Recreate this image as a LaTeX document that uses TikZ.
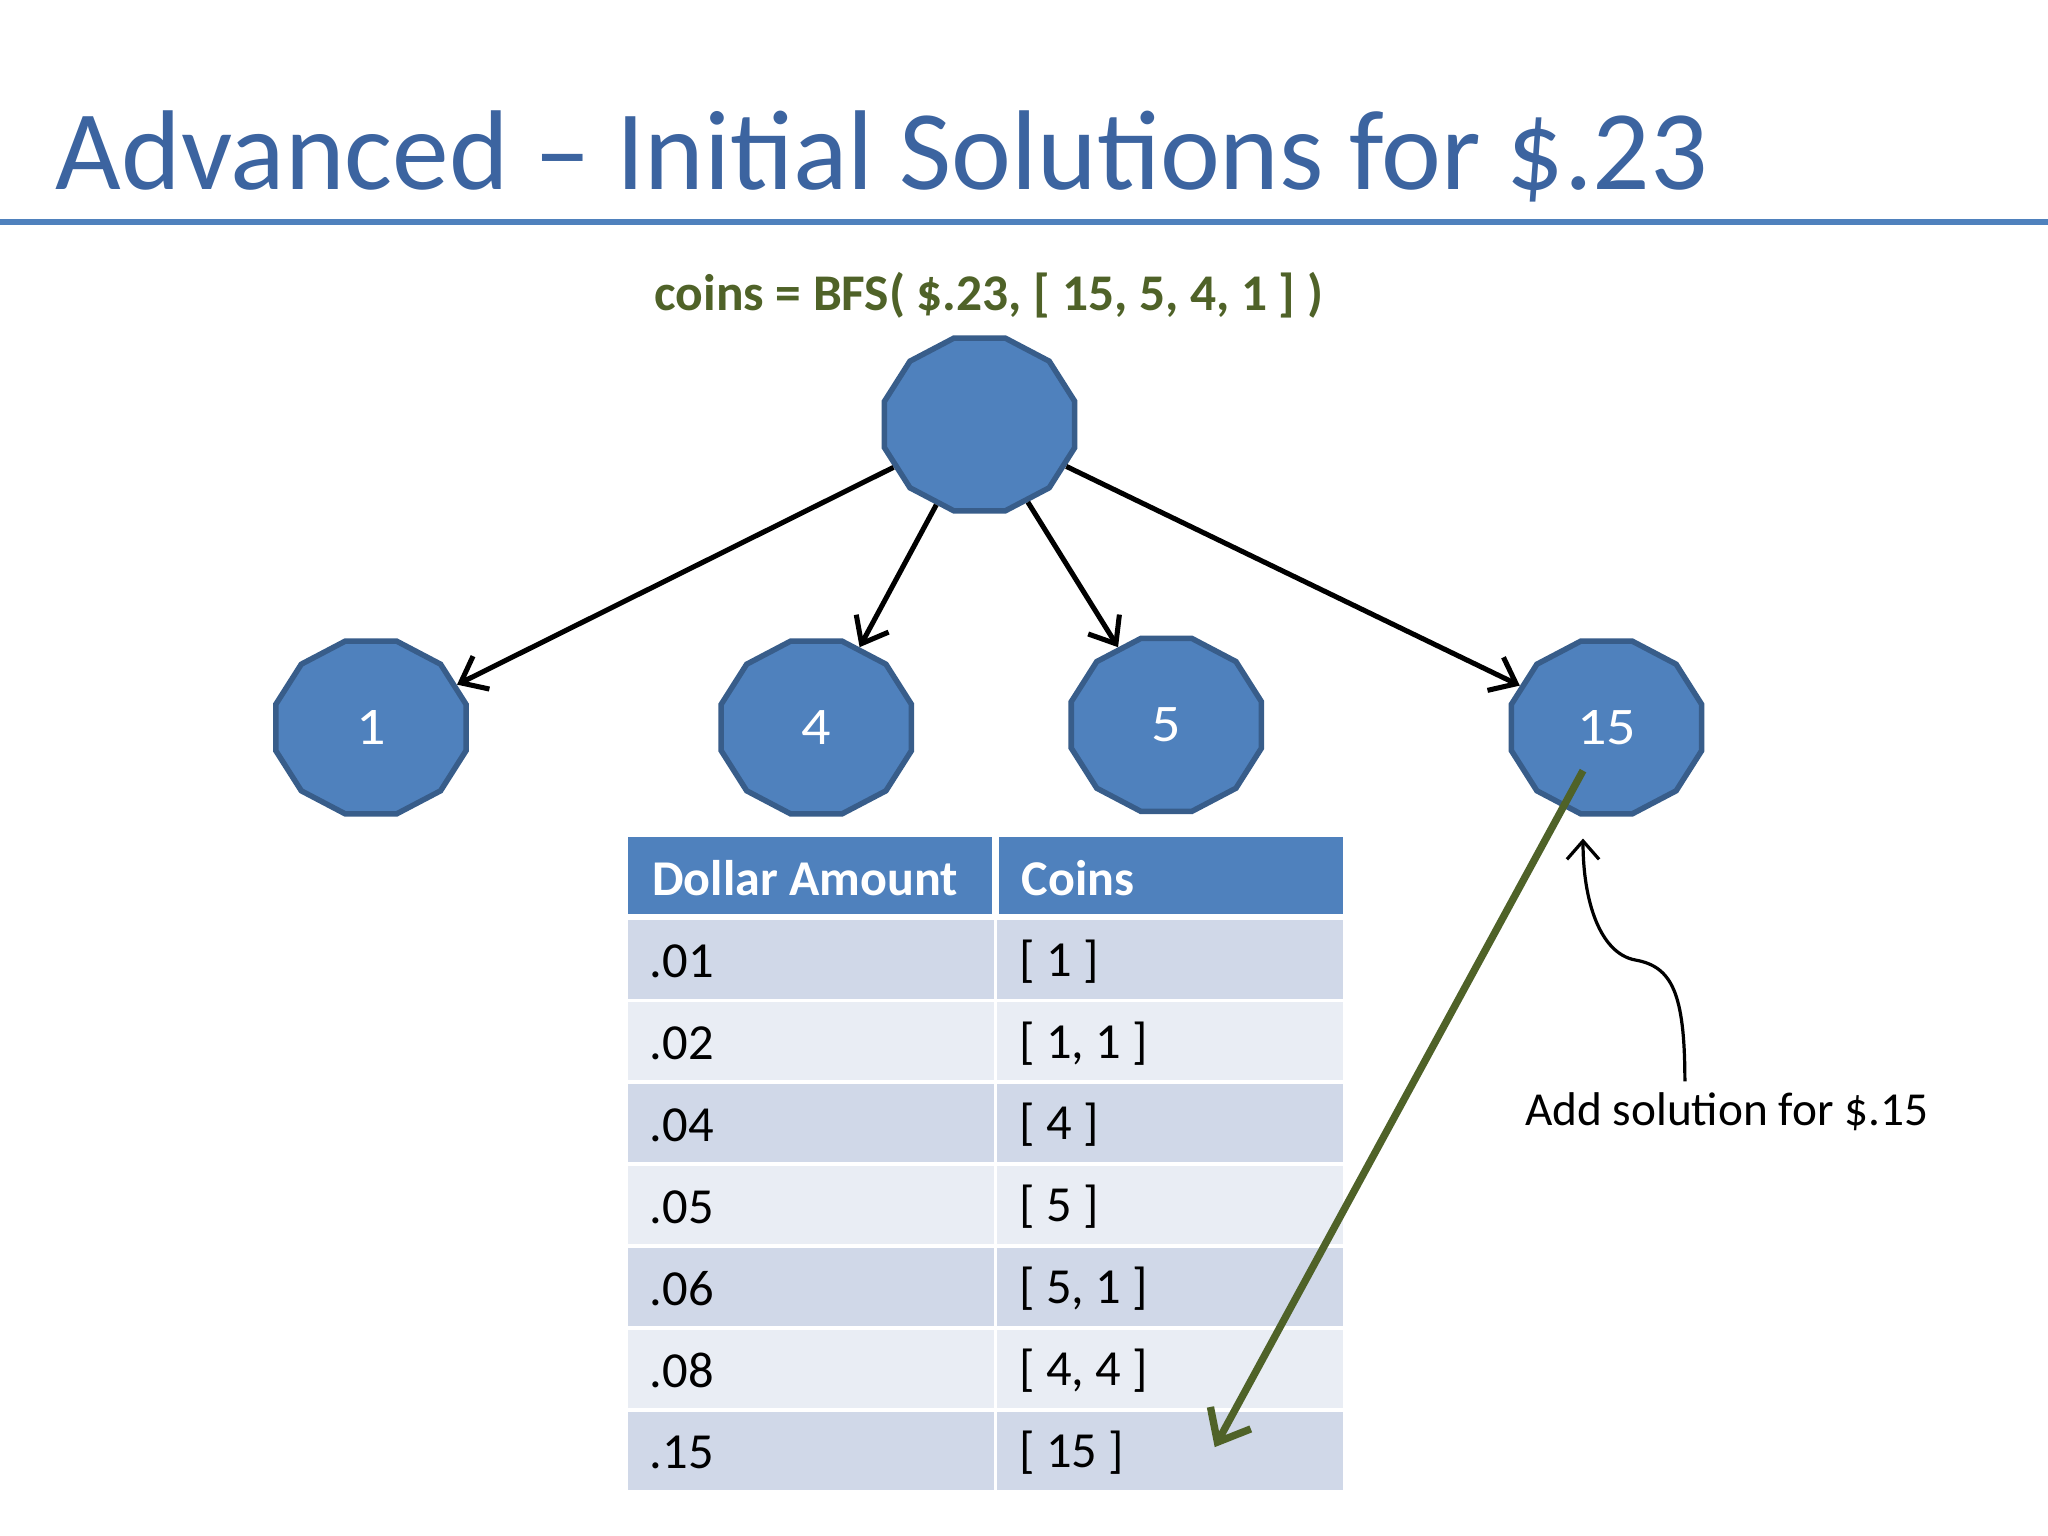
\documentclass[tikz,border=0pt]{standalone}
\usepackage{fontspec}
\setmainfont{Carlito}
\usetikzlibrary{shapes.geometric,arrows.meta}
\definecolor{nodeblue}{HTML}{4F81BD}
\definecolor{nodeedge}{HTML}{385D8A}
\definecolor{titleblue}{HTML}{3C64A0}
\definecolor{olive}{HTML}{4F6228}
\definecolor{rowa}{HTML}{D0D8E8}
\definecolor{rowb}{HTML}{E9EDF4}
\tikzset{
 deca/.style={regular polygon,regular polygon sides=12,fill=nodeblue,draw=nodeedge,line width=1.2pt,minimum size=1.37cm,inner sep=0pt,text=white,font=\fontsize{11.5}{14}\selectfont},
 edge/.style={-{Straight Barb[length=5pt,width=8pt]},line width=1.1pt},
 cell/.style={anchor=west,font=\fontsize{11}{14}\selectfont}
}
\begin{document}
\begin{tikzpicture}[x=0.01cm,y=-0.01cm]
\useasboundingbox (0,0) rectangle (1568,1176);
\fill[white] (0,0) rectangle (1568,1176);
\node[anchor=base west,text=titleblue,font=\fontsize{24.7}{30}\selectfont,inner sep=0] (title) at (42,145) {Advanced -- Initial Solutions for \$.23};
\draw[nodeblue,line width=1.2pt] (0,170) -- (1568,170);
\node[text=olive,font=\bfseries\fontsize{11.2}{15}\selectfont] (sub) at (757,226) {coins = BFS( \$.23, [ 15, 5, 4, 1 ] )};
\begin{scope}[xscale=1.1]
\node[deca,transform shape] (r) at (750/1.1,325) {};
\node[deca,transform shape] (n1) at (284/1.1,557) {1};
\node[deca,transform shape] (n4) at (625/1.1,557) {4};
\node[deca,transform shape] (n5) at (893/1.1,555) {5};
\node[deca,transform shape] (n15) at (1230/1.1,557) {15};
\end{scope}
\draw[edge] (r) -- (n1);
\draw[edge] (r) -- (n4);
\draw[edge] (r) -- (n5);
\draw[edge] (r) -- (n15);
% table
\fill[nodeblue] (481,641) rectangle (1028,700);
\draw[white,line width=1.5pt] (762,641) -- (762,700);
\node[cell,text=white,font=\bfseries\fontsize{10.9}{14}\selectfont] (h1) at (487,672) {Dollar Amount};
\node[cell,text=white,font=\bfseries\fontsize{10.9}{14}\selectfont] (h2) at (770,672) {Coins};
\foreach \i/\a/\c in {0/.01/{[ 1 ]},1/.02/{[ 1, 1 ]},2/.04/{[ 4 ]},3/.05/{[ 5 ]},4/.06/{[ 5, 1 ]},5/.08/{[ 4, 4 ]},6/.15/{[ 15 ]}}{
  \pgfmathsetmacro{\yt}{703+62.7*\i}
  \pgfmathtruncatemacro{\odd}{mod(\i,2)}
  \ifnum\odd=0 \def\rc{rowa}\else\def\rc{rowb}\fi
  \fill[\rc] (481,\yt+1.5) rectangle (761,\yt+61.5);
  \fill[\rc] (763.5,\yt+1.5) rectangle (1028,\yt+61.5);
  \node[cell] (a\i) at (485,\yt+33) {\a};
  \node[cell] (c\i) at (768,\yt+33) {\c};
}
\coordinate (gs) at (1212,590);
\coordinate (ge) at (930,1108);
\draw[olive,line width=1.6pt,-{Straight Barb[length=6pt,width=10pt]}] (gs) -- (ge);
\node[font=\fontsize{10.3}{14}\selectfont] (lab) at (1322,851) {Add solution for \$.15};
\coordinate (ae) at (1212,642);
\draw[-{Straight Barb[length=4pt,width=7pt]},line width=0.7pt] (1290,828) .. controls (1290,760) and (1280,740) .. (1252,735) .. controls (1225,730) and (1212,690) .. (ae);
\end{tikzpicture}
\end{document}
